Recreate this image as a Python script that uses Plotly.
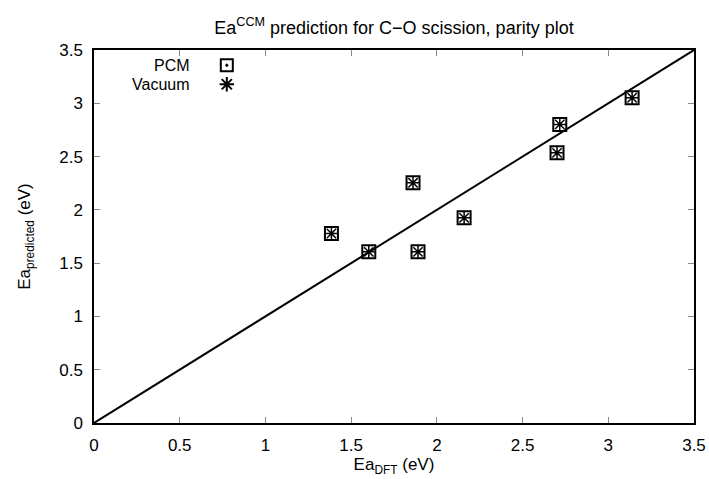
import plotly.graph_objects as go

# Data
ea_dft = [1.385, 1.603, 1.861, 1.890, 2.159, 2.701, 2.717, 3.139]
pcm_pred = [1.778, 1.606, 2.254, 1.606, 1.925, 2.535, 2.802, 3.052]
vac_pred = [1.778, 1.606, 2.254, 1.606, 1.925, 2.535, 2.802, 3.052]
parity_x = [0, 3.5]
parity_y = [0, 3.5]
tick_vals = [0, 0.5, 1, 1.5, 2, 2.5, 3, 3.5]
tick_text = ["0", "0.5", "1", "1.5", "2", "2.5", "3", "3.5"]
series_names = ["PCM", "Vacuum"]

font = "Liberation Sans, Arial, sans-serif"

fig = go.Figure()
fig.add_trace(go.Scatter(x=parity_x, y=parity_y, mode="lines",
                         line=dict(color="black", width=2), showlegend=False))
fig.add_trace(go.Scatter(x=ea_dft, y=pcm_pred, mode="markers", name=" ",
                         marker=dict(symbol="square-open-dot", size=13, color="black",
                                     line=dict(color="black", width=2))))
fig.add_trace(go.Scatter(x=ea_dft, y=vac_pred, mode="markers", name="  ",
                         marker=dict(symbol="asterisk-open", size=11, color="black",
                                     line=dict(color="black", width=1.5))))

# legend labels, right-aligned to the left of the legend symbols (gnuplot style)
for name, yp in zip(series_names, [0.9585, 0.9075]):
    fig.add_annotation(text=name, xref="paper", yref="paper", x=0.1633, y=yp,
                       xanchor="right", yanchor="middle", showarrow=False,
                       font=dict(family=font, size=16, color="black"))

axis_common = dict(
    range=[0, 3.5], tickvals=tick_vals, ticktext=tick_text,
    ticks="inside", ticklen=6, tickcolor="#888", showline=True, linecolor="black",
    linewidth=1.5, mirror="ticks", showgrid=False, zeroline=False,
    automargin=False, ticklabelstandoff=6,
    tickfont=dict(family=font, size=17, color="black"),
)

fig.update_layout(
    width=709, height=479,
    margin=dict(l=94, r=15, t=50, b=56),
    paper_bgcolor="white", plot_bgcolor="white",
    font=dict(family=font, size=17, color="black"),
    title=dict(text="Ea<sup>CCM</sup> prediction for C\u2212O scission, parity plot",
               x=0.5, xref="paper", xanchor="center", y=0.943, yanchor="middle",
               font=dict(family=font, size=18)),
    xaxis=dict(**axis_common,
               title=dict(text="Ea<sub>DFT</sub> (eV)", standoff=4,
                          font=dict(family=font, size=17))),
    yaxis=dict(**axis_common,
               title=dict(text="Ea<sub>predicted</sub> (eV)", standoff=24,
                          font=dict(family=font, size=17))),
    legend=dict(x=0.188, y=0.998, xanchor="left", yanchor="top",
                bgcolor="rgba(0,0,0,0)", font=dict(family=font, size=9),
                tracegroupgap=0, itemsizing="constant"),
)

fig.write_html("out.html", config={"displayModeBar": False},
               post_script="document.body.style.margin='0';document.body.style.overflow='hidden';")
